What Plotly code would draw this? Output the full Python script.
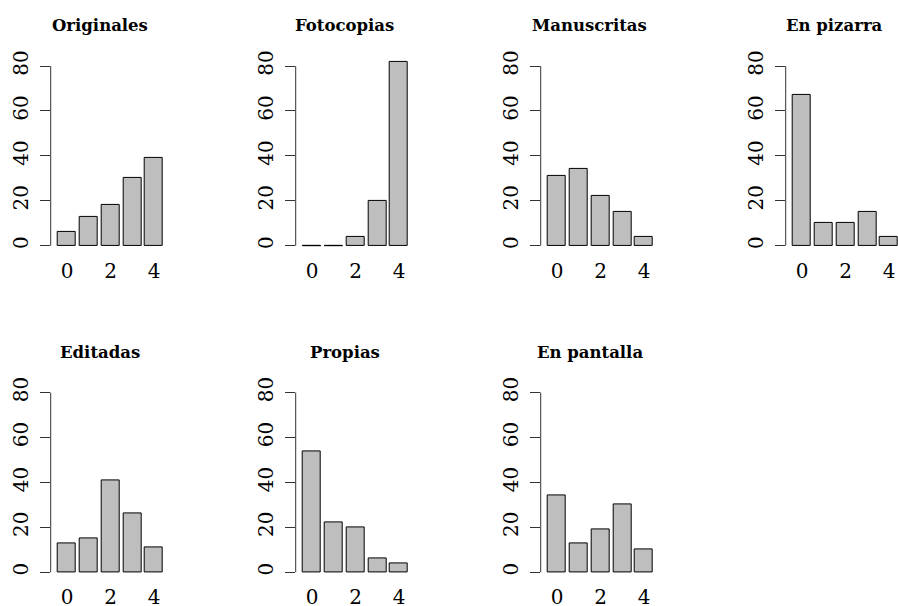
import plotly.graph_objects as go

# Response levels (0-4) and axis labels
categories = [0, 1, 2, 3, 4]
x_tick_labels = ["0", "2", "4"]
y_ticks = [0, 20, 40, 60, 80]

# Counts per kind of material
titles = ["Originales", "Fotocopias", "Manuscritas", "En pizarra",
          "Editadas", "Propias", "En pantalla"]
originales = [6, 13, 18, 30, 39]
fotocopias = [0, 0, 4, 20, 82]
manuscritas = [31, 34, 22, 15, 4]
en_pizarra = [67, 10, 10, 15, 4]
editadas = [13, 15, 41, 26, 11]
propias = [54, 22, 20, 6, 4]
en_pantalla = [34, 13, 19, 30, 10]
series = [originales, fotocopias, manuscritas, en_pizarra,
          editadas, propias, en_pantalla]

# Page geometry (pixels)
W, H = 898, 606
PX_PER_X = 18.125
PX_PER_Y = 2.245
COL_PITCH = 245.0
ROW_PITCH = 326.5
LEFT0 = 50.7          # left edge of first plot region
ZERO0 = 245.7         # pixel row of y = 0 in the first row
TITLE0 = 26.0         # title centre line in the first row
XLIM = (-0.2, 5.2)    # plot-region limits in bar units
YLIM = (-3.2, 83.2)

FILL = "#BEBEBE"
INK = "#000000"
AXIS_INK = "#333333"
FONT = "DejaVu Serif"


def bar_centre(i):
    # barplot layout: width 1, spacing 0.2
    return 0.7 + 1.2 * i


fig = go.Figure()
shapes, annotations = [], []
layout_axes = {}

for k, (title, values) in enumerate(zip(titles, series)):
    row, col = divmod(k, 4)
    n = k + 1
    xa = "x" if n == 1 else f"x{n}"
    ya = "y" if n == 1 else f"y{n}"

    left = LEFT0 + col * COL_PITCH
    right = min(left + 6.4 * PX_PER_X, W)
    x_hi = XLIM[0] + (right - left) / PX_PER_X
    zero = ZERO0 + row * ROW_PITCH
    top = zero - YLIM[1] * PX_PER_Y
    bottom = zero - YLIM[0] * PX_PER_Y

    centres = [bar_centre(c) for c in categories]
    fig.add_trace(go.Bar(
        x=centres, y=values, width=1.0,
        marker=dict(color=FILL, line=dict(color=INK, width=1)),
        xaxis=xa, yaxis=ya, showlegend=False, hoverinfo="skip",
    ))

    # zero-count bars still show their flat outline
    zx, zy = [], []
    for c, v in zip(centres, values):
        if v == 0:
            zx += [c - 0.5, c + 0.5, None]
            zy += [v, v, None]
    if zx:
        fig.add_trace(go.Scatter(
            x=zx, y=zy, mode="lines", line=dict(color=INK, width=1),
            xaxis=xa, yaxis=ya, showlegend=False, hoverinfo="skip",
        ))

    layout_axes["xaxis" if n == 1 else f"xaxis{n}"] = dict(
        domain=[left / W, right / W], range=[XLIM[0], x_hi], anchor=ya,
        tickmode="array",
        tickvals=[bar_centre(c) for c in categories[::2]],
        ticktext=x_tick_labels,
        ticks="", showgrid=False, zeroline=False, showline=False,
        tickfont=dict(family=FONT, size=20, color=INK),
        ticklabelstandoff=4, fixedrange=True, automargin=False,
    )
    layout_axes["yaxis" if n == 1 else f"yaxis{n}"] = dict(
        domain=[1 - bottom / H, 1 - top / H], range=list(YLIM), anchor=xa,
        tickmode="array", tickvals=y_ticks,
        ticktext=[str(v) for v in y_ticks],
        ticks="outside", ticklen=10, tickwidth=1, tickcolor=AXIS_INK,
        tickangle=-90, showgrid=False, zeroline=False, showline=False,
        tickfont=dict(family=FONT, size=20, color=INK),
        ticklabelstandoff=4, fixedrange=True, automargin=False,
    )

    # y axis line spans the tick range only
    shapes.append(dict(
        type="line", xref=f"{xa} domain", yref=ya,
        x0=0, x1=0, y0=y_ticks[0], y1=y_ticks[-1],
        line=dict(color=AXIS_INK, width=1),
    ))

    centre_px = left + (XLIM[1] - XLIM[0]) * PX_PER_X / 2
    annotations.append(dict(
        text=f"<b>{title}</b>", showarrow=False,
        xref="paper", yref="paper",
        x=centre_px / W, y=1 - (TITLE0 + row * ROW_PITCH) / H,
        xanchor="center", yanchor="middle",
        font=dict(family=FONT, size=16.5, color=INK),
    ))

fig.update_layout(
    width=W, height=H,
    margin=dict(l=0, r=0, t=0, b=0, pad=0, autoexpand=False),
    paper_bgcolor="white", plot_bgcolor="white",
    bargap=0, showlegend=False,
    shapes=shapes, annotations=annotations,
    **layout_axes,
)

fig.write_html("out.html")
